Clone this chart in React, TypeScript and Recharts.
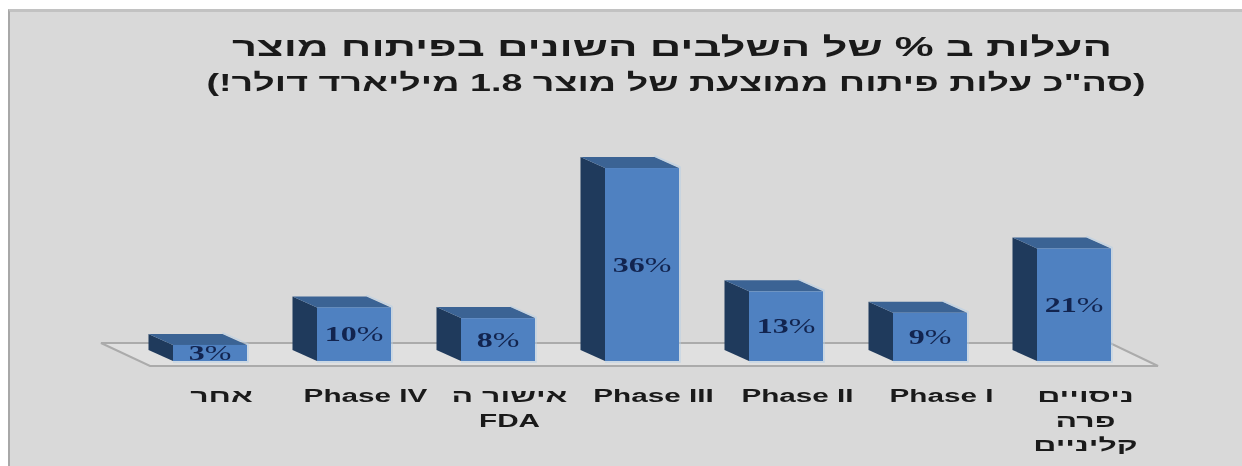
import React from "react";
import { BarChart, Bar, XAxis, YAxis, LabelList, usePlotArea } from "recharts";

const categories = [
  "אחר",
  "Phase IV",
  "אישור ה\nFDA",
  "Phase III",
  "Phase II",
  "Phase I",
  "ניסויים\nפרה\nקליניים",
];
const costShares = [3, 10, 8, 36, 13, 9, 21];
const titleLines = [
  "העלות ב % של השלבים השונים בפיתוח מוצר",
  '(סה"כ עלות פיתוח ממוצעת של מוצר 1.8 מיליארד דולר!)',
];

const data = categories.map((name, i) => ({ name, value: costShares[i] }));

const DEPTH_X = 24.5;
const DEPTH_Y = 11;
const SANS = '"Liberation Sans", Arial, sans-serif';

// stretched text, the reference is scaled wider than tall
const WideText = ({ x, y, sx, size, weight = 700, fill = "#1a1a1a", family = SANS, rtl, children }: any) => (
  <text
    transform={`translate(${x},${y}) scale(${sx},1)`}
    textAnchor="middle"
    direction={rtl ? "rtl" : undefined}
    fontFamily={family}
    fontSize={size}
    fontWeight={weight}
    fill={fill}
  >
    {children}
  </text>
);

const Box3D = ({ x, y, width, height }: any) => {
  const bottom = y + height;
  const right = x + width;
  return (
    <g>
      <path
        d={`M${x},${y} L${x - DEPTH_X},${y - DEPTH_Y} L${x - DEPTH_X},${bottom - DEPTH_Y} L${x},${bottom} Z`}
        fill="#1f3a5c"
      />
      <path
        d={`M${x},${y} L${x - DEPTH_X},${y - DEPTH_Y} L${right - DEPTH_X},${y - DEPTH_Y} L${right},${y} Z`}
        fill="#3b6394"
      />
      <rect x={x} y={y} width={width} height={height} fill="#4f81c1" />
      {/* pale halo the jpeg leaves round the bars */}
      <path
        d={`M${right - DEPTH_X},${y - DEPTH_Y - 1} L${right + 1},${y - 1} L${right + 1},${bottom + 1} L${x},${bottom + 1}`}
        fill="none"
        stroke="#b4cfe8"
        strokeOpacity={0.6}
        strokeWidth={1.5}
      />
    </g>
  );
};

const Floor = () => {
  const plot = usePlotArea();
  if (!plot) return null;
  const base = plot.y + plot.height;
  const left = plot.x;
  const right = plot.x + plot.width;
  return (
    <path
      d={`M${left - 37},${base - 18} L${right - 36},${base - 18} L${right + 12},${base + 5} L${left + 12},${base + 5} Z`}
      fill="#e0e0e0"
      stroke="#ababab"
      strokeWidth={2}
    />
  );
};

const Title = () => (
  <g>
    <WideText x={672} y={56} sx={1.62} size={27} rtl>{titleLines[0]}</WideText>
    <WideText x={676} y={91} sx={1.57} size={24} rtl>{titleLines[1]}</WideText>
  </g>
);

const CategoryTick = ({ x, y, payload }: any) => (
  <g>
    {String(payload.value)
      .split("\n")
      .map((line, i) => (
        <WideText
          key={i}
          x={x + 11.5}
          y={y + 33 + i * 24.5}
          sx={/[\u0590-\u05ff]/.test(line) ? 1.78 : 1.65}
          size={18}
        >
          {line}
        </WideText>
      ))}
  </g>
);

const ValueLabel = ({ x, y, width, height, value }: any) => (
  <WideText
    x={x + width / 2}
    y={y + height / 2 + 7}
    sx={1.6}
    size={20}
    fill="#12244f"
    family='"Liberation Serif", serif'
  >
    {value}
    <tspan fontWeight={400}>%</tspan>
  </WideText>
);

export default function App() {
  return (
    <div style={{ position: "absolute", left: 0, top: 0, width: 1242, height: 466, background: "#fff", overflow: "hidden" }}>
      <div
        style={{
          position: "absolute",
          left: 8,
          top: 9,
          right: 0,
          bottom: 0,
          background: "#d9d9d9",
          borderTop: "3px solid #c2c2c2",
          borderLeft: "2px solid #a8a8a8",
        }}
      />
      <div style={{ position: "absolute", left: 0, top: 0, filter: "blur(0.6px)" }}>
        <BarChart
          width={1242}
          height={466}
          data={data}
          margin={{ top: 146.6, right: 96, bottom: 45, left: 138 }}
        >
          <Floor />
          <Title />
          <XAxis
            dataKey="name"
            height={60}
            axisLine={false}
            tickLine={false}
            interval={0}
            tick={<CategoryTick />}
          />
          <YAxis hide domain={[0, 40]} />
          <Bar dataKey="value" barSize={74} shape={<Box3D />} isAnimationActive={false}>
            <LabelList dataKey="value" content={<ValueLabel />} />
          </Bar>
        </BarChart>
      </div>
    </div>
  );
}
